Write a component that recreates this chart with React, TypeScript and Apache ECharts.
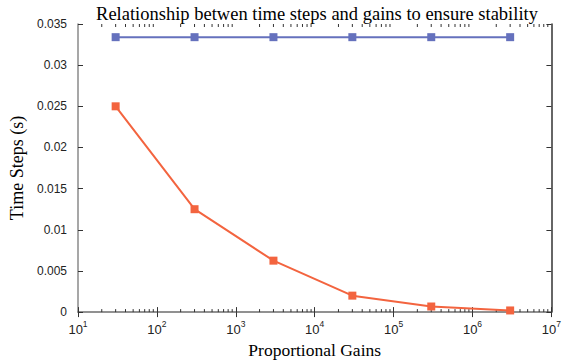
import React, { useEffect, useRef } from "react";
import * as echarts from "echarts";

const gains = [30, 300, 3000, 30000, 300000, 3000000];
const limitSteps = [0.0334, 0.0334, 0.0334, 0.0334, 0.0334, 0.0334];
const stableSteps = [0.025, 0.0125, 0.00625, 0.002, 0.00068, 0.0002];
const yTickValues = [0, 0.005, 0.01, 0.015, 0.02, 0.025, 0.03, 0.035];
const decadeExponents = [1, 2, 3, 4, 5, 6];
const minorMultipliers = [2, 3, 4, 5, 6, 7, 8, 9];

const minorTickData: number[][] = [];
decadeExponents.forEach((e) => {
  minorMultipliers.forEach((m) => {
    minorTickData.push([m * Math.pow(10, e), 0]);
  });
});

const BLUE = "#6571bd";
const ORANGE = "#f3643f";
const FRAME = "#8a8a8a";

export default function App() {
  const ref = useRef<HTMLDivElement>(null);
  useEffect(() => {
    if (!ref.current) return;
    const chart = echarts.init(ref.current, undefined, { renderer: "svg" });
    const xLabel = (v: number) => `{b|10}{s|${Math.round(Math.log10(v))}}`;
    const yMin = yTickValues[0];
    const yMax = yTickValues[yTickValues.length - 1];
    chart.setOption({
      animation: false,
      backgroundColor: "#fff",
      title: {
        text: "Relationship betwen time steps and gains to ensure stability",
        left: 312,
        textAlign: "center",
        top: -1,
        textStyle: {
          fontFamily: "Liberation Serif",
          fontWeight: "normal",
          fontSize: 18.5,
          color: "#000",
        },
      },
      grid: { left: 78, right: 9, top: 24, bottom: 47, containLabel: false },
      xAxis: [
        {
          type: "log",
          logBase: 10,
          min: 10,
          max: 1e7,
          splitNumber: 6,
          name: "Proportional Gains",
          nameLocation: "middle",
          nameGap: 23,
          nameTextStyle: {
            fontFamily: "Liberation Serif",
            fontSize: 17.5,
            color: "#000",
          },
          axisLine: { lineStyle: { color: FRAME, width: 1.5 } },
          axisTick: { inside: true, length: 5, lineStyle: { color: "#333" } },
          splitLine: { show: false },
          axisLabel: {
            formatter: xLabel,
            margin: 7,
            rich: {
              b: { fontFamily: "Liberation Sans", fontSize: 13, color: "#222", lineHeight: 17, verticalAlign: "bottom" },
              s: { fontFamily: "Liberation Sans", fontSize: 8.5, color: "#222", lineHeight: 17, verticalAlign: "top" },
            },
          },
        },
        {
          type: "log",
          logBase: 10,
          min: 10,
          max: 1e7,
          splitNumber: 6,
          position: "top",
          axisLine: { lineStyle: { color: FRAME, width: 1.5 } },
          axisTick: { inside: true, length: 5, lineStyle: { color: "#333" } },
          axisLabel: { show: false },
          splitLine: { show: false },
        },
      ],
      yAxis: [
        {
          type: "value",
          min: yMin,
          max: yMax,
          interval: 0.005,
          name: "Time Steps (s)",
          nameLocation: "middle",
          nameGap: 52,
          nameTextStyle: {
            fontFamily: "Liberation Serif",
            fontSize: 18,
            color: "#000",
          },
          axisLine: { show: true, lineStyle: { color: FRAME, width: 1.5 } },
          axisTick: { show: true, inside: true, length: 5, lineStyle: { color: "#333" } },
          splitLine: { show: false },
          axisLabel: {
            fontFamily: "Liberation Sans",
            fontSize: 12,
            color: "#222",
            margin: 11,
          },
        },
        {
          type: "value",
          min: yMin,
          max: yMax,
          interval: 0.005,
          position: "right",
          axisLine: { show: true, lineStyle: { color: "#333", width: 1.5 } },
          axisTick: { show: true, inside: true, length: 5, lineStyle: { color: "#333" } },
          axisLabel: { show: false },
          splitLine: { show: false },
        },
      ],
      series: [
        {
          type: "custom",
          xAxisIndex: 0,
          yAxisIndex: 0,
          silent: true,
          clip: false,
          data: minorTickData,
          renderItem: (params: any, api: any) => {
            const x = api.value(0);
            const b = api.coord([x, yMin]);
            const t = api.coord([x, yMax]);
            const style = { stroke: "#333", lineWidth: 1 };
            return {
              type: "group",
              children: [
                { type: "line", shape: { x1: b[0], y1: b[1], x2: b[0], y2: b[1] - 3 }, style },
                { type: "line", shape: { x1: t[0], y1: t[1], x2: t[0], y2: t[1] + 3 }, style },
              ],
            };
          },
          z: 1,
        },
        {
          name: "limit",
          type: "line",
          data: gains.map((g, i) => [g, limitSteps[i]]),
          symbol: "rect",
          symbolSize: 8,
          lineStyle: { color: BLUE, width: 2 },
          itemStyle: { color: BLUE },
          z: 3,
        },
        {
          name: "stable",
          type: "line",
          data: gains.map((g, i) => [g, stableSteps[i]]),
          symbol: "rect",
          symbolSize: 8,
          lineStyle: { color: ORANGE, width: 2 },
          itemStyle: { color: ORANGE },
          z: 3,
        },
      ],
    });
    return () => chart.dispose();
  }, []);
  return <div ref={ref} style={{ width: 564, height: 364, position: "absolute", left: 0, top: 0 }} />;
}
